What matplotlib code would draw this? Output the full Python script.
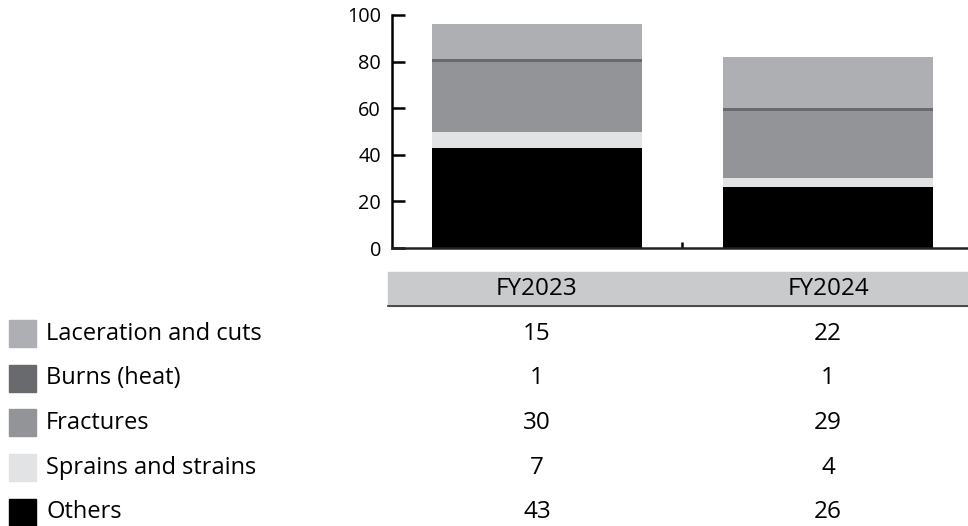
import matplotlib.pyplot as plt
from matplotlib.patches import Rectangle
from matplotlib.transforms import blended_transform_factory

plt.rcParams['font.family'] = ['Open Sans', 'DejaVu Sans']

years = ['FY2023', 'FY2024']
# bottom to top stacking order
categories = ['Others', 'Sprains and strains', 'Fractures', 'Burns (heat)', 'Laceration and cuts']
values = {
    'Others': [43, 26],
    'Sprains and strains': [7, 4],
    'Fractures': [30, 29],
    'Burns (heat)': [1, 1],
    'Laceration and cuts': [15, 22],
}
colors = {
    'Others': '#000000',
    'Sprains and strains': '#e2e3e5',
    'Fractures': '#939497',
    'Burns (heat)': '#696a6d',
    'Laceration and cuts': '#aeafb3',
}
yticks = [0, 20, 40, 60, 80, 100]

W, H = 968, 526
fig = plt.figure(figsize=(W / 100, H / 100), dpi=100)


def fx(px):
    return px / W


def fy(py):
    return 1 - py / H


ax = fig.add_axes([fx(392), fy(248), fx(968 - 392), (248 - 15) / H])

x = list(range(len(years)))
bottom = [0] * len(years)
for cat in categories:
    ax.bar(x, values[cat], width=0.72, bottom=bottom, color=colors[cat], zorder=1)
    bottom = [b + v for b, v in zip(bottom, values[cat])]

ax.set_xlim(-0.498, 1.481)
ax.set_ylim(0, 100)
ax.set_yticks(yticks)
ax.set_xticks([i + 0.5 for i in x[:-1]])
ax.set_xticklabels([])
ax.tick_params(axis='y', direction='in', length=9, width=1.8, labelsize=14.3, pad=8)
ax.tick_params(axis='x', direction='in', length=4, width=1.8)
for s in ['top', 'right']:
    ax.spines[s].set_visible(False)
for s in ['left', 'bottom']:
    ax.spines[s].set_linewidth(1.8)
    ax.spines[s].set_zorder(3)
ax.spines['bottom'].set_color('#222222')

# table header band
fig.patches.append(Rectangle((fx(388), fy(306)), fx(968 - 388), (306 - 272) / H,
                             transform=fig.transFigure, color='#c9cacc', zorder=0))
fig.add_artist(plt.Line2D([fx(388), 1], [fy(306), fy(306)], color='#333333', lw=1.2,
                          transform=fig.transFigure))

tr = blended_transform_factory(ax.transData, fig.transFigure)
for i, yr in enumerate(years):
    fig.text(i, fy(289), yr, transform=tr, ha='center', va='center', fontsize=17.5)

rows = ['Laceration and cuts', 'Burns (heat)', 'Fractures', 'Sprains and strains', 'Others']
for r, cat in enumerate(rows):
    yc = 333.5 + r * 44.7
    fig.patches.append(Rectangle((fx(9), fy(yc + 13.5)), fx(27), 27 / H,
                                 transform=fig.transFigure, color=colors[cat]))
    fig.text(fx(46), fy(yc), cat, ha='left', va='center', fontsize=17)
    for i in x:
        fig.text(i, fy(yc), str(values[cat][i]), transform=tr, ha='center', va='center',
                 fontsize=17.5)

fig.savefig('out.png', dpi=100)
